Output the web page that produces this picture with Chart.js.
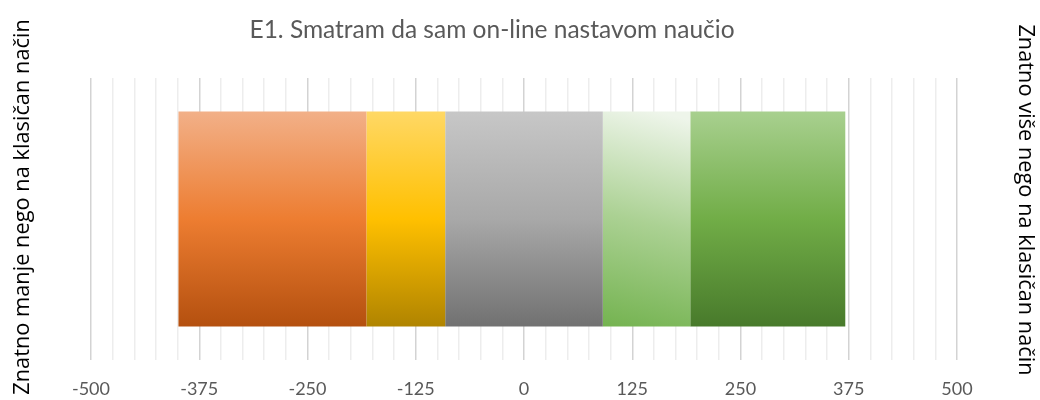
<!DOCTYPE html>
<html><head><meta charset="utf-8">
<script src="https://cdn.jsdelivr.net/npm/chart.js@4/dist/chart.umd.min.js"></script>
<style>html,body{margin:0;padding:0;background:#fff}#wrap{width:1040px;height:400px}</style>
</head><body><div id="wrap"><canvas id="c" width="1040" height="400"></canvas></div>
<script>
// ---- data ----
const chartTitle = 'E1. Smatram da sam on-line nastavom naučio';
const leftLabel = 'Znatno manje nego na klasičan način';
const rightLabel = 'Znatno više nego na klasičan način';
const categories = ['E1'];
const responseLabels = ['Znatno manje', 'Manje', 'Jednako', 'Više', 'Znatno više'];
const responseCounts = [217, 91, 182, 101, 179];
const tickLabels = [-500, -375, -250, -125, 0, 125, 250, 375, 500];

// ---- styles (gradient stops: top, middle, bottom) ----
const gradStops = [
  ['#f2b088', '#ed7d31', '#b4500f'],
  ['#ffd865', '#ffc000', '#b08400'],
  ['#c7c7c7', '#a8a8a8', '#717171'],
  ['#eef5ea', '#abd193', '#74b350'],
  ['#a8d08f', '#71ad47', '#487a2b']
];

// diverging spans: neutral centred on 0
const startVal = -(responseCounts[0] + responseCounts[1] + responseCounts[2] / 2);
const spans = [];
let acc = startVal;
responseCounts.forEach(v => { spans.push([acc, acc + v]); acc += v; });

const CAT_PCT = 0.762;

function makeGrad(ctx, i) {
  const chart = ctx.chart;
  const area = chart.chartArea;
  if (!area) return gradStops[i][1];
  const c = chart.ctx;
  const mid = (area.top + area.bottom) / 2;
  const half = (area.bottom - area.top) * CAT_PCT / 2;
  let g;
  if (i === 3) {
    const xs = chart.scales.x;
    const x0 = xs.getPixelForValue(spans[i][0]);
    const x1 = xs.getPixelForValue(spans[i][1]);
    g = c.createLinearGradient(x0 + (x1 - x0) * 0.6, mid - half, x0, mid + half);
  } else {
    g = c.createLinearGradient(0, mid - half, 0, mid + half);
  }
  g.addColorStop(0, gradStops[i][0]);
  g.addColorStop(0.5, gradStops[i][1]);
  g.addColorStop(1, gradStops[i][2]);
  return g;
}

const datasets = responseLabels.map((lab, i) => ({
  label: lab,
  data: categories.map(() => spans[i]),
  backgroundColor: (ctx) => makeGrad(ctx, i),
  borderWidth: 0,
  grouped: false,
  barPercentage: 1,
  categoryPercentage: CAT_PCT
}));

const textPlugin = {
  id: 'texts',
  afterDraw(chart) {
    const c = chart.ctx;
    c.save();
    c.textAlign = 'center';
    c.textBaseline = 'middle';
    c.fillStyle = '#595959';
    c.font = '24.5px Lato';
    c.fillText(chartTitle, 492, 30);
    c.fillStyle = '#000000';
    c.font = '21.8px "Open Sans"';
    c.save();
    c.translate(23, 207);
    c.rotate(-Math.PI / 2);
    c.fillText(leftLabel, 0, 0);
    c.restore();
    c.save();
    c.translate(1025, 200);
    c.rotate(Math.PI / 2);
    c.fillText(rightLabel, 0, 0);
    c.restore();
    c.restore();
  }
};

new Chart(document.getElementById('c'), {
  type: 'bar',
  data: { labels: categories, datasets },
  plugins: [textPlugin],
  options: {
    indexAxis: 'y',
    responsive: false,
    animation: false,
    layout: { padding: { left: 91, right: 83, top: 78, bottom: 0 } },
    plugins: { legend: { display: false }, tooltip: { enabled: false }, title: { display: false } },
    scales: {
      x: {
        min: tickLabels[0],
        max: tickLabels[tickLabels.length - 1],
        border: { display: false },
        afterFit: (s) => { s.height = 40; },
        grid: {
          drawTicks: false,
          color: (ctx) => (ctx.tick && tickLabels.includes(ctx.tick.value)) ? '#d3d3d3' : '#ededed',
          lineWidth: 1.5
        },
        ticks: {
          stepSize: 25,
          autoSkip: false,
          maxRotation: 0,
          padding: 18,
          color: '#595959',
          font: { family: 'Lato', size: 18 },
          callback: (v) => tickLabels.includes(v) ? String(v) : ''
        }
      },
      y: {
        display: false
      }
    }
  }
});
</script></body></html>
